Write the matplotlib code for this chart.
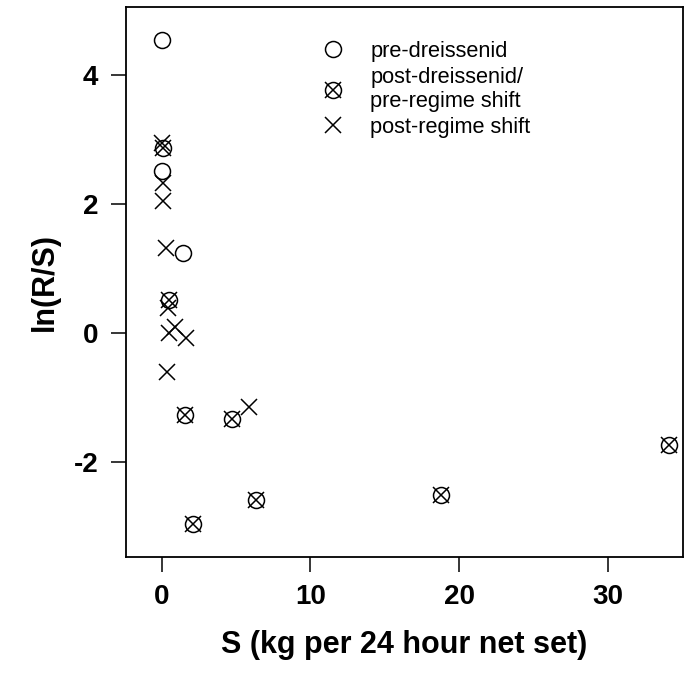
import matplotlib
matplotlib.use('Agg')
import matplotlib.pyplot as plt
from matplotlib.lines import Line2D
from matplotlib.ticker import FuncFormatter

plt.rcParams['font.family'] = ['Liberation Sans', 'DejaVu Sans']
plt.rcParams['axes.unicode_minus'] = False

# ln(R/S) against spawning stock S
pre_x = [0.03, 0.03, 1.45]
pre_y = [4.54, 2.51, 1.24]

postd_x = [0.10, 0.50, 1.56, 4.74, 2.12, 6.34, 18.79, 34.13]
postd_y = [2.87, 0.52, -1.27, -1.33, -2.95, -2.58, -2.51, -1.73]

postr_x = [0.00, 0.10, 0.10, 0.28, 0.44, 0.50, 0.89, 1.63, 0.37, 5.89]
postr_y = [2.95, 2.33, 2.05, 1.32, 0.39, 0.00, 0.10, -0.08, -0.60, -1.14]

xticks = [0, 10, 20, 30]
yticks = [-2, 0, 2, 4]

fig = plt.figure(figsize=(6.93, 6.75), dpi=100)
ax = fig.add_axes([0.1818, 0.1753, 0.8038, 0.8139])

ms_o = 11.5
ms_x = 12
lw = 1.1

ax.plot(pre_x, pre_y, 'o', ls='none', mfc='none', mec='black', ms=ms_o, mew=lw)
ax.plot(postd_x, postd_y, 'o', ls='none', mfc='none', mec='black', ms=ms_o, mew=lw)
ax.plot(postd_x, postd_y, 'x', ls='none', color='black', ms=ms_x, mew=lw)
ax.plot(postr_x, postr_y, 'x', ls='none', color='black', ms=ms_x, mew=lw)

ax.set_xlim(-2.41, 35.07)
ax.set_ylim(-3.46, 5.05)
ax.set_xticks(xticks)
ax.set_yticks(yticks)
ax.yaxis.set_major_formatter(FuncFormatter(lambda v, p: '%d' % v))
ax.tick_params(length=10.8, width=1.1, pad=9, labelsize=20)
for lab in ax.get_xticklabels() + ax.get_yticklabels():
    lab.set_fontweight('bold')
for s in ax.spines.values():
    s.set_linewidth(1.3)

ax.set_xlabel('S (kg per 24 hour net set)', fontsize=22, fontweight='bold', labelpad=14)
ax.set_ylabel('ln(R/S)', fontsize=22, fontweight='bold', labelpad=10)

h_pre = Line2D([], [], marker='o', ls='none', mfc='none', mec='black', ms=ms_o, mew=lw)
h_d1 = Line2D([], [], marker='o', ls='none', mfc='none', mec='black', ms=ms_o, mew=lw)
h_d2 = Line2D([], [], marker='x', ls='none', color='black', ms=ms_x, mew=lw)
h_r = Line2D([], [], marker='x', ls='none', color='black', ms=ms_x, mew=lw)
ax.legend([h_pre, (h_d1, h_d2), h_r],
          ['pre-dreissenid', 'post-dreissenid/\npre-regime shift', 'post-regime shift'],
          loc='upper left', bbox_to_anchor=(0.317, 0.975), frameon=False,
          fontsize=15.7, handlelength=1.0, handletextpad=1.2, labelspacing=0.23)

fig.savefig('out.png', dpi=100)
